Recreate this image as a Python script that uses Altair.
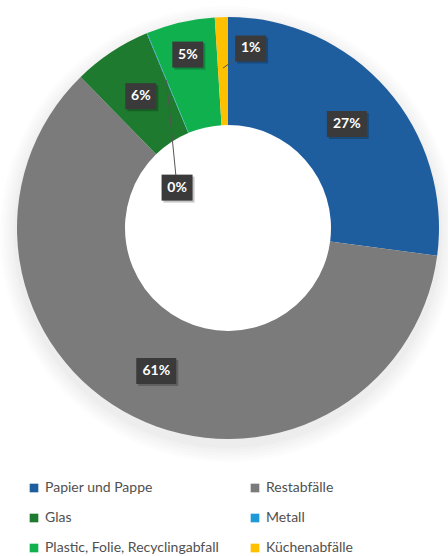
import altair as alt
import pandas as pd

# ---- data ----
categories = ["Papier und Pappe", "Restabfälle", "Glas", "Metall",
              "Plastic, Folie, Recyclingabfall", "Küchenabfälle"]
shares = [27.1, 60.6, 6.0, 0.05, 5.25, 1.0]

# ---- styling / layout ----
colors = ["#1f5e9e", "#7b7b7b", "#1d7a2e", "#1e9bd7", "#10b04f", "#ffc000"]
label_radius = [158, 160, 158, 65, 178, 181]      # px from centre
label_shift = [0, 0, 0, -29, 0, 9]                # degrees
leader = [0, 0, 0, 1, 0, 1]

CX, CY = 228, 228
R_OUT, R_IN = 211, 103
W, H = 448, 556

df = pd.DataFrame({
    "cat": categories,
    "share": shares,
    "idx": list(range(len(categories))),
    "lr": label_radius,
    "shift": label_shift,
    "leader": leader,
})

xs = alt.Scale(domain=[-CX, W - CX], range=[0, W])
ys = alt.Scale(domain=[-CY, H - CY], range=[0, H])

base = alt.Chart(df)

# soft shadow rings under the donut
shadow_layers = []
for r in [228, 225, 222, 219, 216, 214]:
    shadow_layers.append(
        alt.Chart(pd.DataFrame({"a": [1]})).mark_arc(
            theta=0, theta2=6.2832, innerRadius=150, outerRadius=r,
            color="#000000", opacity=0.012
        ).encode(x=alt.value(CX), y=alt.value(CY + 6))
    )

donut = base.mark_arc(innerRadius=R_IN, outerRadius=R_OUT, stroke=None).encode(
    theta=alt.Theta("share:Q", stack=True),
    order=alt.Order("idx:Q"),
    color=alt.Color(
        "cat:N",
        scale=alt.Scale(domain=categories, range=colors),
        sort=categories,
        legend=alt.Legend(
            title=None, orient="none", legendX=27, legendY=481, columns=2,
            direction="horizontal",
            symbolType="square", symbolSize=75, symbolStrokeWidth=0,
            labelFont="Lato", labelFontSize=14, labelColor="#505050",
            labelLimit=300, rowPadding=16, columnPadding=29,
            symbolOffset=0, labelOffset=4,
        ),
    ),
    x=alt.value(CX),
    y=alt.value(CY),
)

calc = base.transform_window(
    cum="sum(share)", sort=[alt.SortField("idx")], frame=[None, 0]
).transform_joinaggregate(
    total="sum(share)"
).transform_calculate(
    mid="2*PI*(datum.cum - datum.share/2)/datum.total",
).transform_calculate(
    la="datum.mid + datum.shift*PI/180",
    lbl="format(datum.share/100, '.0%')",
).transform_calculate(
    lx="datum.lr*sin(datum.la)",
    ly="-datum.lr*cos(datum.la)",
    sx="160*sin(datum.mid)",
    sy="-160*cos(datum.mid)",
    bw="13 + 9*length(datum.lbl)",
).transform_calculate(
    x1="datum.lx - datum.bw/2",
    x2="datum.lx + datum.bw/2",
    y1="datum.ly - 13",
    y2="datum.ly + 13",
    x1s="datum.lx - datum.bw/2 + 2",
    x2s="datum.lx + datum.bw/2 + 2",
    y1s="datum.ly - 11",
    y2s="datum.ly + 15",
)

leaders = calc.transform_filter("datum.leader == 1").mark_rule(
    color="#555555", strokeWidth=1
).encode(
    x=alt.X("sx:Q", scale=xs, axis=None),
    y=alt.Y("sy:Q", scale=ys, axis=None),
    x2="lx:Q",
    y2="ly:Q",
)

box_shadow = calc.mark_rect(color="#000000", opacity=0.22).encode(
    x=alt.X("x1s:Q", scale=xs, axis=None),
    x2="x2s:Q",
    y=alt.Y("y1s:Q", scale=ys, axis=None),
    y2="y2s:Q",
)

boxes = calc.mark_rect(color="#3a3a3a").encode(
    x=alt.X("x1:Q", scale=xs, axis=None),
    x2="x2:Q",
    y=alt.Y("y1:Q", scale=ys, axis=None),
    y2="y2:Q",
)

texts = calc.mark_text(
    font="Lato", fontSize=14, fontWeight="bold", color="#ffffff",
    align="center", baseline="middle"
).encode(
    x=alt.X("lx:Q", scale=xs, axis=None),
    y=alt.Y("ly:Q", scale=ys, axis=None),
    text="lbl:N",
)

chart = alt.layer(
    *shadow_layers, donut, leaders, box_shadow, boxes, texts
).properties(
    width=W, height=H, padding=0,
    autosize=alt.AutoSizeParams(type="none"),
    background="#ffffff",
).configure_view(stroke=None)

chart.save("out.html", embed_options={"renderer": "svg", "actions": False})
